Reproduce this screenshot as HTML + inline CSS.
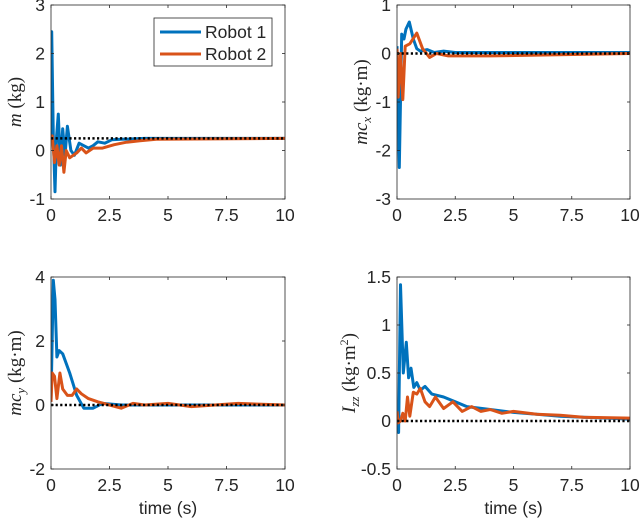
<!DOCTYPE html>
<html><head><meta charset="utf-8"><style>
body{margin:0;background:#fff;}
svg{display:block;font-family:"Liberation Sans",sans-serif;}
.tk{font-size:17.5px;fill:#262626;}
.yl{font-family:"Liberation Serif",serif;font-size:19px;fill:#262626;}
</style></head><body>
<svg id="fig" width="640" height="525"></svg>
<script>
const t1m=[0,0.03,0.1,0.17,0.24,0.31,0.4,0.5,0.6,0.7,0.85,1.0,1.2,1.4,1.6,1.8,2.0,2.3,2.6,3,3.5,4,5,10];
const v1m=[0.3,2.45,0.3,-0.85,0.3,0.75,-0.3,0.45,-0.1,0.5,0.0,-0.1,0.15,0.1,0.05,0.1,0.18,0.15,0.22,0.23,0.24,0.25,0.25,0.25];
const t2m=[0,0.05,0.15,0.25,0.35,0.45,0.55,0.65,0.8,0.95,1.1,1.3,1.5,1.8,2.2,2.7,3.2,3.8,4.5,10];
const v2m=[0.25,0.3,-0.25,0.1,-0.3,0.1,-0.45,0.0,-0.15,-0.1,-0.05,0.05,-0.05,0.05,0.05,0.12,0.17,0.2,0.23,0.25];
const t1x=[0,0.1,0.2,0.3,0.38,0.53,0.7,0.85,1.0,1.3,1.6,2,2.5,10];
const v1x=[0.15,-2.35,0.4,0.3,0.5,0.65,0.3,0.1,0.05,0.08,0.02,0.05,0.02,0.02];
const t2x=[0,0.05,0.15,0.25,0.35,0.55,0.85,1.1,1.4,1.7,2.2,3,4,10];
const v2x=[0.1,-0.9,0.0,-0.95,0.15,0.2,0.42,0.1,-0.08,0.0,-0.05,-0.05,-0.05,0.0];
const t1y=[0,0.1,0.17,0.25,0.35,0.5,0.8,1.1,1.4,1.8,2.2,3,10];
const v1y=[0.1,3.9,3.3,1.5,1.7,1.6,1.0,0.3,-0.1,-0.1,0.05,0.0,0.0];
const t2y=[0,0.05,0.15,0.25,0.38,0.5,0.7,0.9,1.1,1.3,1.6,2,2.5,3,3.5,4,5,6,7,8,10];
const v2y=[0.1,1.0,0.9,0.2,1.0,0.5,0.3,0.3,0.5,0.35,0.2,0.1,0.0,-0.1,0.05,0.0,0.05,-0.05,0.0,0.05,0.0];
const t1z=[0,0.07,0.15,0.27,0.4,0.5,0.6,0.72,0.85,1.0,1.2,1.5,2,2.5,3,4,5,6,7,8,9,10];
const v1z=[-0.05,-0.12,1.42,0.5,0.82,0.45,0.55,0.35,0.4,0.32,0.36,0.28,0.25,0.2,0.15,0.12,0.09,0.07,0.05,0.04,0.03,0.02];
const t2z=[0,0.05,0.15,0.25,0.35,0.45,0.55,0.7,0.85,1.0,1.2,1.4,1.65,2,2.4,2.8,3.2,3.6,4,4.5,5,6,7,8,10];
const v2z=[0.1,-0.02,0.0,0.08,0.0,0.25,0.05,0.3,0.28,0.34,0.2,0.15,0.25,0.13,0.2,0.1,0.15,0.1,0.12,0.08,0.1,0.07,0.06,0.04,0.03];
const xTicks=[0,2.5,5,7.5,10];
const xTickLabels=["0","2.5","5","7.5","10"];
const trueM=[0.25], trueX=[0], trueY=[0], trueZ=[0];

const NS="http://www.w3.org/2000/svg";
const svg=document.getElementById('fig');
function mk(tag,attrs,parent){const e=document.createElementNS(NS,tag);for(const k in attrs)e.setAttribute(k,attrs[k]);(parent||svg).appendChild(e);return e;}

const panels=[
 {name:'m',L:51,R:285,T:5,B:199,ymin:-1,ymax:3,yt:[-1,0,1,2,3],yl:['-1','0','1','2','3'],s1:[t1m,v1m],s2:[t2m,v2m],tv:trueM,lab:'<tspan font-style="italic">m</tspan>  (kg)',xl:false},
 {name:'mcx',L:397,R:630,T:5,B:199,ymin:-3,ymax:1,yt:[-3,-2,-1,0,1],yl:['-3','-2','-1','0','1'],s1:[t1x,v1x],s2:[t2x,v2x],tv:trueX,lab:'<tspan font-style="italic">mc</tspan><tspan font-style="italic" font-size="13" dy="4">x</tspan><tspan dy="-4">  (kg·m)</tspan>',xl:false},
 {name:'mcy',L:51,R:285,T:277,B:469,ymin:-2,ymax:4,yt:[-2,0,2,4],yl:['-2','0','2','4'],s1:[t1y,v1y],s2:[t2y,v2y],tv:trueY,lab:'<tspan font-style="italic">mc</tspan><tspan font-style="italic" font-size="13" dy="4">y</tspan><tspan dy="-4">  (kg·m)</tspan>',xl:true},
 {name:'izz',L:397,R:630,T:277,B:469,ymin:-0.5,ymax:1.5,yt:[-0.5,0,0.5,1,1.5],yl:['-0.5','0','0.5','1','1.5'],s1:[t1z,v1z],s2:[t2z,v2z],tv:trueZ,lab:'<tspan font-style="italic">I</tspan><tspan font-style="italic" font-size="13" dy="4">zz</tspan><tspan dy="-4">  (kg·m</tspan><tspan font-size="12" dy="-7">2</tspan><tspan dy="7">)</tspan>',xl:true}
];

panels.forEach(p=>{
 const g=mk('g',{});
 
 
 const xs=v=>p.L+(v-0)/(10-0)*(p.R-p.L);
 const ys=v=>p.B-(v-p.ymin)/(p.ymax-p.ymin)*(p.B-p.T);
 const clip=mk('clipPath',{id:'c'+p.name},g);
 mk('rect',{x:p.L,y:p.T,width:p.R-p.L,height:p.B-p.T},clip);
 const tl=mk('line',{x1:xs(0),x2:xs(10),y1:ys(p.tv[0]),y2:ys(p.tv[0]),stroke:'#000','stroke-width':2.4,'stroke-dasharray':'2.2,2.4'},g);
 
 
 [[p.s1,'#0072BD','robot-1-line'],[p.s2,'#D95319','robot-2-line']].forEach(([s,c,n])=>{
  const d=s[0].map((t,i)=>(i?'L':'M')+xs(t).toFixed(1)+','+ys(s[1][i]).toFixed(1)).join('');
  const pl=mk('path',{d:d,fill:'none',stroke:c,'stroke-width':3,'stroke-linejoin':'round','clip-path':'url(#c'+p.name+')'},g);
  
  
 });
 g.appendChild(tl);
 mk('rect',{x:p.L,y:p.T,width:p.R-p.L,height:p.B-p.T,fill:'none',stroke:'#262626','stroke-width':0.8},g);
 xTicks.forEach((v,i)=>{
  mk('line',{x1:xs(v),x2:xs(v),y1:p.B,y2:p.B-3,stroke:'#262626','stroke-width':0.8},g);
  mk('line',{x1:xs(v),x2:xs(v),y1:p.T,y2:p.T+3,stroke:'#262626','stroke-width':0.8},g);
  const tx=mk('text',{x:xs(v),y:p.B+22,'text-anchor':'middle',class:'tk'},g);tx.textContent=xTickLabels[i];
  
  
 });
 p.yt.forEach((v,i)=>{
  mk('line',{x1:p.L,x2:p.L+3,y1:ys(v),y2:ys(v),stroke:'#262626','stroke-width':0.8},g);
  mk('line',{x1:p.R,x2:p.R-3,y1:ys(v),y2:ys(v),stroke:'#262626','stroke-width':0.8},g);
  const tx=mk('text',{x:p.L-6,y:ys(v)+6,'text-anchor':'end',class:'tk'},g);tx.textContent=p.yl[i];
  
  
 });
 const yx=p.L-(p.name==='izz'?42:30);
 const yl=mk('text',{x:yx,y:(p.T+p.B)/2,'text-anchor':'middle',class:'yl',transform:'rotate(-90 '+yx+' '+((p.T+p.B)/2)+')'},g);
 yl.innerHTML=p.lab;
 
 
 if(p.xl){
  const xt=mk('text',{x:(p.L+p.R)/2,y:514,'text-anchor':'middle',class:'tk','font-size':'18'},g);
  xt.textContent='time (s)';
  
  
 }
});
const lg=mk('g',{});


mk('rect',{x:154,y:18,width:118,height:48,fill:'#fff',stroke:'#262626','stroke-width':0.8},lg);
[['Robot 1','#0072BD',32],['Robot 2','#D95319',54]].forEach(([n,c,y])=>{
 const e=mk('g',{},lg);
 
 
 mk('line',{x1:160,x2:201,y1:y,y2:y,stroke:c,'stroke-width':3},e);
 const t=mk('text',{x:205,y:y+6,class:'tk','font-size':'16.5'},e);t.textContent=n;
});
</script>
</body></html>
